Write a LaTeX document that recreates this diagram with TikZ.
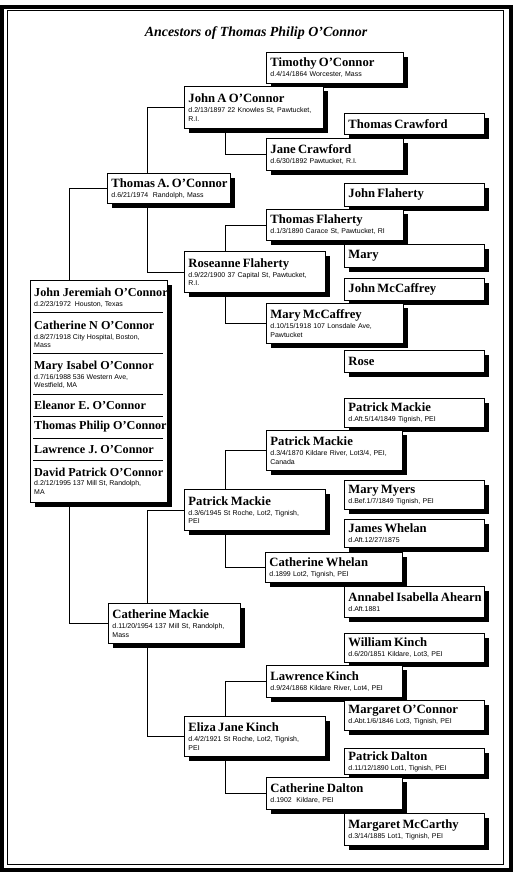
\documentclass[tikz,border=0pt]{standalone}
\usepackage{fontspec}
\setmainfont{Liberation Serif}
\newfontfamily\detfam{Liberation Sans}
\usetikzlibrary{shadows}
\newcommand\nmfont{\rmfamily\fontsize{12.7}{14}\selectfont\bfseries}
\newcommand\knmfont{\rmfamily\fontsize{12.2}{14}\selectfont\bfseries}
\newcommand\dtfont{\detfam\fontsize{7}{8.5}\selectfont}
\newcommand\nm[1]{{\nmfont\mbox{#1}}}
\newcommand\knm[1]{{\knmfont\mbox{#1}}}
\newcommand\dt[1]{{\dtfont\mbox{#1}}}
\begin{document}
\begin{tikzpicture}[x=1bp,y=-1bp,
  pbox/.style={draw=black, line width=0.9bp, fill=white, anchor=north west,
    align=left, inner xsep=4bp, inner ysep=1bp, font=\dtfont,
    drop shadow={shadow xshift=4.5bp, shadow yshift=-4.5bp, fill=black, opacity=1}},
  gfour/.style={pbox, minimum width=140bp, text width=132bp},
  gthree/.style={pbox, minimum width=137bp, text width=129bp},
  gtwo/.style={pbox, minimum width=141bp, text width=133bp},
  link/.style={draw=black, line width=0.9bp},
  kid/.style={anchor=west, align=left, inner sep=0pt, font=\dtfont},
  sepline/.style={draw=black, line width=0.9bp}]
\useasboundingbox (0,0) rectangle (516,872);
\fill[white] (0,0) rectangle (516,872);
% frame
\draw[line width=4bp] (2,6.5) rectangle (510.5,870);
\draw[line width=1bp] (7.5,10) rectangle (503.5,864);
% title
\node[font=\fontsize{14}{16}\selectfont\bfseries\itshape] (title) at (256,33) {Ancestors of Thomas Philip O'Connor};
% vertical connector columns
\coordinate (v0) at (69,0);
\coordinate (v1) at (147,0);
\coordinate (v2) at (225,0);
% ---------------- upper half
\node[gthree, minimum height=31bp] (tim) at (266,52) {\nm{Timothy O'Connor}\\[1.5pt]\dt{d.4/14/1864 Worcester, Mass}};
\node[gtwo, minimum width=139bp, text width=131bp, minimum height=42bp] (ja) at (184,86) {\nm{John A O'Connor}\\[1.5pt]\dt{d.2/13/1897 22 Knowles St, Pawtucket,}\\\dt{R.I.}};
\node[gfour, minimum height=21bp] (tc) at (344,113) {\nm{Thomas Crawford}};
\node[gthree, minimum height=32bp] (jc) at (266,138) {\nm{Jane Crawford}\\[1.5pt]\dt{d.6/30/1892 Pawtucket, R.I.}};
\node[pbox, minimum width=123bp, text width=115bp, minimum height=30bp] (ta) at (107,173) {\nm{Thomas A. O'Connor}\\[1.5pt]\dt{d.6/21/1974\ \ Randolph, Mass}};
\node[gfour, minimum height=23bp] (jf) at (344,183) {\nm{John Flaherty}};
\node[gthree, minimum height=31bp] (tf) at (266,209) {\nm{Thomas Flaherty}\\[1.5pt]\dt{d.1/3/1890 Carace St, Pawtucket, RI}};
\node[gfour, minimum height=23bp] (mary) at (344,244) {\nm{Mary}};
\node[gtwo, minimum height=41bp] (rf) at (184,251) {\nm{Roseanne Flaherty}\\[1.5pt]\dt{d.9/22/1900 37 Capital St, Pawtucket,}\\\dt{R.I.}};
\node[gfour, minimum height=22bp] (jmc) at (344,278) {\nm{John McCaffrey}};
\node[gthree, minimum height=40bp] (mm) at (266,303) {\nm{Mary McCaffrey}\\[1.5pt]\dt{d.10/15/1918 107 Lonsdale Ave,}\\\dt{Pawtucket}};
\node[gfour, minimum height=22bp] (rose) at (344,350) {\nm{Rose}};
% ---------------- children box
\node[pbox, minimum width=137bp, minimum height=222bp] (kids) at (30,280) {};
\foreach \yy in {312,353,394,416,438,460} \draw[sepline] (33,\yy) -- (163,\yy);
\node[kid] (k1) at (34,298) {\knm{John Jeremiah O'Connor}\\[1.5pt]\dt{d.2/23/1972\ \ Houston, Texas}};
\node[kid] (k2) at (34,334.5) {\knm{Catherine N O'Connor}\\[1.5pt]\dt{d.8/27/1918 City Hospital, Boston,}\\\dt{Mass}};
\node[kid] (k3) at (34,374.5) {\knm{Mary Isabel O'Connor}\\[1.5pt]\dt{d.7/16/1988 536 Western Ave,}\\\dt{Westfield, MA}};
\node[kid] (k4) at (34,405) {\knm{Eleanor E. O'Connor}};
\node[kid] (k5) at (34,427) {\knm{Thomas Philip O'Connor}};
\node[kid] (k6) at (34,449.5) {\knm{Lawrence J. O'Connor}};
\node[kid] (k7) at (34,481) {\knm{David Patrick O'Connor}\\[1.5pt]\dt{d.2/12/1995 137 Mill St, Randolph,}\\\dt{MA}};
% ---------------- lower half
\node[gfour, minimum height=29bp] (pm4) at (344,398) {\nm{Patrick Mackie}\\[1.5pt]\dt{d.Aft.5/14/1849 Tignish, PEI}};
\node[gthree, minimum width=136bp, text width=128bp, minimum height=40bp] (pm3) at (266,430) {\nm{Patrick Mackie}\\[1.5pt]\dt{d.3/4/1870 Kildare River, Lot3/4, PEI,}\\\dt{Canada}};
\node[gfour, minimum height=29bp] (my) at (344,480) {\nm{Mary Myers}\\[1.5pt]\dt{d.Bef.1/7/1849 Tignish, PEI}};
\node[gtwo, minimum height=41bp] (pm2) at (184,489) {\nm{Patrick Mackie}\\[1.5pt]\dt{d.3/6/1945 St Roche, Lot2, Tignish,}\\\dt{PEI}};
\node[gfour, minimum height=28bp] (jw) at (344,519) {\nm{James Whelan}\\[1.5pt]\dt{d.Aft.12/27/1875}};
\node[gthree, minimum height=30bp] (cw) at (265,552) {\nm{Catherine Whelan}\\[1.5pt]\dt{d.1899 Lot2, Tignish, PEI}};
\node[gfour, minimum height=31bp] (aia) at (344,586) {\nm{Annabel Isabella Ahearn}\\[1.5pt]\dt{d.Aft.1881}};
\node[pbox, minimum width=132bp, text width=124bp, minimum height=40bp] (cm) at (108,603) {\nm{Catherine Mackie}\\[1.5pt]\dt{d.11/20/1954 137 Mill St, Randolph,}\\\dt{Mass}};
\node[gfour, minimum height=29bp] (wk) at (344,633) {\nm{William Kinch}\\[1.5pt]\dt{d.6/20/1851 Kildare, Lot3, PEI}};
\node[gthree, minimum width=136bp, text width=128bp, minimum height=32bp] (lk) at (266,665) {\nm{Lawrence Kinch}\\[1.5pt]\dt{d.9/24/1868 Kildare River, Lot4, PEI}};
\node[gfour, minimum height=30bp] (mo) at (344,700) {\nm{Margaret O'Connor}\\[1.5pt]\dt{d.Abt.1/6/1846 Lot3, Tignish, PEI}};
\node[gtwo, minimum height=40bp] (ej) at (184,716) {\nm{Eliza Jane Kinch}\\[1.5pt]\dt{d.4/2/1921 St Roche, Lot2, Tignish,}\\\dt{PEI}};
\node[gfour, minimum height=26bp] (pd) at (344,748) {\nm{Patrick Dalton}\\[1.5pt]\dt{d.11/12/1890 Lot1, Tignish, PEI}};
\node[gthree, minimum width=136bp, text width=128bp, minimum height=32bp] (cd) at (266,777) {\nm{Catherine Dalton}\\[1.5pt]\dt{d.1902\ \ Kildare, PEI}};
\node[gfour, minimum height=32bp] (mmc) at (344,813) {\nm{Margaret McCarthy}\\[1.5pt]\dt{d.3/14/1885 Lot1, Tignish, PEI}};
% ---------------- connectors
\draw[link] (ta.west) -| (v0 |- kids.north);
\draw[link] (cm.west) -| (v0 |- kids.south);
\draw[link] (ja.west) -| (v1 |- ta.north);
\draw[link] (rf.west) -| (v1 |- ta.south);
\draw[link] (pm2.west) -| (v1 |- cm.north);
\draw[link] (ej.west) -| (v1 |- cm.south);
\draw[link] (jc.west) -| (v2 |- ja.south);
\draw[link] (tf.west) -| (v2 |- rf.north);
\draw[link] (mm.west) -| (v2 |- rf.south);
\draw[link] (pm3.west) -| (v2 |- pm2.north);
\draw[link] (cw.west) -| (v2 |- pm2.south);
\draw[link] (lk.west) -| (v2 |- ej.north);
\draw[link] (cd.west) -| (v2 |- ej.south);
\end{tikzpicture}
\end{document}
